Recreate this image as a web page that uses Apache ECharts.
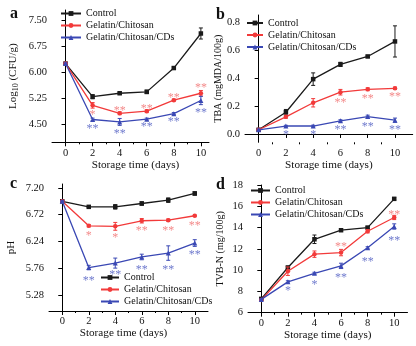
<!DOCTYPE html>
<html><head><meta charset="utf-8">
<script src="https://cdn.jsdelivr.net/npm/echarts@6/dist/echarts.min.js"></script>
<style>html,body{margin:0;padding:0;background:#fff}#c{width:416px;height:346px}</style>
</head><body><div id="c"></div>
<script>
// ---------- data ----------
const days = [0, 2, 4, 6, 8, 10];
const seriesNames = ['Control', 'Gelatin/Chitosan', 'Gelatin/Chitosan/CDs'];
const xTicks = [0, 2, 4, 6, 8, 10];
const xMinorTicks = [1, 3, 5, 7, 9];

// panel a: Log10 (CFU/g)
const aControl = [6.26, 5.30, 5.40, 5.44, 6.13, 7.13];
const aControlErr = [0.02, 0.06, 0.03, 0.05, 0.03, 0.16];
const aGC = [6.26, 5.05, 4.82, 4.88, 5.20, 5.40];
const aGCErr = [0.02, 0.08, 0.04, 0.04, 0.03, 0.08];
const aGCD = [6.26, 4.64, 4.57, 4.65, 4.81, 5.19];
const aGCDErr = [0.02, 0.04, 0.10, 0.03, 0.03, 0.12];
const aTicks = [4.50, 5.25, 6.00, 6.75, 7.50];
const aSigRed = [[2, 4.85, '*'], [4, 4.99, '**'], [6, 5.03, '**'], [8, 5.35, '**'], [10, 5.63, '**']];
const aSigBlue = [[2, 4.45, '**'], [4, 4.31, '**'], [6, 4.50, '**'], [8, 4.65, '**'], [10, 4.93, '**']];

// panel b: TBA (mgMDA/100g)
const bControl = [0.03, 0.156, 0.394, 0.50, 0.557, 0.665];
const bControlErr = [0.005, 0.02, 0.045, 0.015, 0.008, 0.112];
const bGC = [0.03, 0.123, 0.224, 0.30, 0.321, 0.328];
const bGCErr = [0.005, 0.01, 0.03, 0.02, 0.01, 0.008];
const bGCD = [0.03, 0.057, 0.057, 0.094, 0.125, 0.099];
const bGCDErr = [0.005, 0.005, 0.006, 0.008, 0.01, 0.015];
const bTicks = [0.0, 0.2, 0.4, 0.6, 0.8];
const bSigRed = [[6, 0.245, '**'], [8, 0.274, '**'], [10, 0.288, '**']];
const bSigBlue = [[2, 0.014, '*'], [4, 0.014, '*'], [6, 0.05, '**'], [8, 0.075, '**'], [10, 0.052, '**']];

// panel c: pH
const cControl = [6.96, 6.86, 6.86, 6.92, 6.98, 7.10];
const cControlErr = [0.01, 0.01, 0.04, 0.03, 0.04, 0.03];
const cGC = [6.96, 6.52, 6.51, 6.61, 6.62, 6.70];
const cGCErr = [0.01, 0.02, 0.07, 0.04, 0.02, 0.01];
const cGCD = [6.96, 5.77, 5.85, 5.96, 6.03, 6.21];
const cGCDErr = [0.01, 0.04, 0.09, 0.05, 0.13, 0.06];
const cTicks = [5.28, 5.76, 6.24, 6.72, 7.20];
const cSigRed = [[2, 6.40, '*'], [4, 6.36, '*'], [6, 6.48, '**'], [8, 6.49, '**'], [10, 6.58, '**']];
const cSigBlue = [[2, 5.59, '**'], [4, 5.69, '**'], [6, 5.79, '**'], [8, 5.79, '**'], [10, 6.06, '**']];

// panel d: TVB-N (mg/100g)
const dControl = [7.3, 10.25, 12.9, 13.75, 14.0, 16.7];
const dControlErr = [0.05, 0.1, 0.4, 0.1, 0.1, 0.1];
const dGC = [7.2, 9.9, 11.5, 11.65, 13.65, 14.95];
const dGCErr = [0.05, 0.4, 0.3, 0.3, 0.15, 0.2];
const dGCD = [7.25, 8.9, 9.7, 10.4, 12.1, 14.1];
const dGCDErr = [0.05, 0.1, 0.1, 0.25, 0.1, 0.25];
const dTicks = [6, 8, 10, 12, 14, 16, 18];
const dSigRed = [[6, 12.45, '**'], [10, 15.5, '**']];
const dSigBlue = [[2, 8.38, '*'], [4, 8.9, '*'], [6, 9.54, '**'], [8, 11.1, '**'], [10, 13.08, '**']];

// ---------- styling / layout ----------
const FONT = 'Liberation Serif';
const COLORS = ['#1a1a1a', '#f23a3a', '#3a48b4'];
const SIGCOLORS = ['#f06b6b', '#4a58c0'];
const SYMBOLS = ['rect', 'circle', 'triangle'];

const panels = [
  {letter: 'a', grid: {left: 52, top: 10, width: 157, height: 132.3}, xMax: 10.6, yMin: 3.98, yMax: 7.81,
   yTicks: aTicks, dec: 2, yName: '{t|Log}{s|10}{t| (CFU/g)}', yGap: 32, yNameSize: 11,
   data: [[aControl, aControlErr], [aGC, aGCErr], [aGCD, aGCDErr]], sig: [aSigRed, aSigBlue],
   legend: {left: 60, top: 8, w: 20}, letterPos: {left: 10, top: 6}, xNamePad: [0, 0, 0, 10]},
  {letter: 'b', grid: {left: 245, top: 15, width: 167.7, height: 127.3}, xMax: 11.3, yMin: -0.06, yMax: 0.855,
   yTicks: bTicks, dec: 1, yName: 'TBA (mgMDA/100g)', yGap: 20, yNameSize: 10,
   data: [[bControl, bControlErr], [bGC, bGCErr], [bGCD, bGCDErr]], sig: [bSigRed, bSigBlue],
   legend: {left: 246, top: 17.5, w: 16}, letterPos: {left: 216, top: 7}, xNamePad: [0, 0, 0, 0]},
  {letter: 'c', grid: {left: 49, top: 184, width: 159, height: 127}, xMax: 11, yMin: 4.99, yMax: 7.27,
   yTicks: cTicks, dec: 2, yName: 'pH', yGap: 32, yNameSize: 11,
   data: [[cControl, cControlErr], [cGC, cGCErr], [cGCD, cGCDErr]], sig: [cSigRed, cSigBlue],
   legend: {left: 100, top: 272, w: 18}, letterPos: {left: 10, top: 176}, xNamePad: [0, 10, 0, 0]},
  {letter: 'd', grid: {left: 248, top: 185, width: 159.5, height: 127.7}, xMax: 11, yMin: 6, yMax: 18,
   yTicks: dTicks, dec: 0, yName: 'TVB-N (mg/100g)', yGap: 23, yNameSize: 10,
   data: [[dControl, dControlErr], [dGC, dGCErr], [dGCD, dGCDErr]], sig: [dSigRed, dSigBlue],
   legend: {left: 250, top: 185, w: 19}, letterPos: {left: 216, top: 177}, xNamePad: [0, 0, 0, 0]}
];

const grids = [], xAxes = [], yAxes = [], series = [], legends = [], titles = [];
const axisLine = {show: true, lineStyle: {color: '#000', width: 1}};
const labelFont = {fontFamily: FONT, fontSize: 10.5, color: '#111'};

panels.forEach((p, i) => {
  grids.push(p.grid);
  // main x axis
  xAxes.push({
    type: 'value', gridIndex: i, min: -1, max: p.xMax, position: 'bottom',
    axisLine, splitLine: {show: false},
    axisTick: {show: true, inside: false, length: 4, customValues: xTicks, lineStyle: {color: '#000'}},
    axisLabel: Object.assign({customValues: xTicks, margin: 5}, labelFont),
    name: 'Storage time (days)', nameLocation: 'middle', nameGap: 15,
    nameTextStyle: {fontFamily: FONT, fontSize: 11.2, color: '#111', padding: p.xNamePad}
  });
  // minor tick axis
  xAxes.push({
    type: 'value', gridIndex: i, min: -1, max: p.xMax, position: 'bottom',
    axisLine: {show: false}, splitLine: {show: false},
    axisTick: {show: true, inside: false, length: 2, customValues: xMinorTicks, lineStyle: {color: '#000'}},
    axisLabel: {show: false}
  });
  yAxes.push({
    type: 'value', gridIndex: i, min: p.yMin, max: p.yMax,
    axisLine, splitLine: {show: false},
    axisTick: {show: true, inside: false, length: 4, customValues: p.yTicks, lineStyle: {color: '#000'}},
    axisLabel: Object.assign({customValues: p.yTicks, margin: 5,
      formatter: v => Number(v).toFixed(p.dec)}, labelFont),
    name: p.yName, nameLocation: 'middle', nameGap: p.yGap, nameRotate: 90,
    nameTextStyle: {fontFamily: FONT, fontSize: p.yNameSize, color: '#111',
      rich: {t: {fontFamily: FONT, fontSize: p.yNameSize, color: '#111'},
             s: {fontFamily: FONT, fontSize: 8, color: '#111', verticalAlign: 'bottom', padding: [6, 0, 0, 0]}}}
  });
  const xi = i * 2;
  p.data.forEach((d, k) => {
    series.push({
      type: 'line', name: seriesNames[k], xAxisIndex: xi, yAxisIndex: i,
      data: days.map((x, j) => [x, d[0][j]]),
      symbol: SYMBOLS[k], symbolSize: k === 2 ? 5 : 4.5, showAllSymbol: true,
      lineStyle: {color: COLORS[k], width: 1.3}, itemStyle: {color: COLORS[k]},
      emphasis: {disabled: true}, animation: false, z: 3 + k
    });
    series.push({
      type: 'custom', name: 'err' + i + k, xAxisIndex: xi, yAxisIndex: i,
      data: days.map((x, j) => [x, d[0][j], d[1][j]]),
      renderItem: (params, api) => {
        const x = api.value(0), y = api.value(1), e = api.value(2);
        const t = api.coord([x, y + e]), b = api.coord([x, y - e]);
        const st = {stroke: COLORS[k], lineWidth: 1};
        return {type: 'group', children: [
          {type: 'line', shape: {x1: t[0], y1: t[1], x2: b[0], y2: b[1]}, style: st},
          {type: 'line', shape: {x1: t[0] - 2, y1: t[1], x2: t[0] + 2, y2: t[1]}, style: st},
          {type: 'line', shape: {x1: b[0] - 2, y1: b[1], x2: b[0] + 2, y2: b[1]}, style: st}
        ]};
      },
      animation: false, silent: true, z: 3 + k
    });
  });
  p.sig.forEach((s, k) => {
    series.push({
      type: 'scatter', name: 'sig' + i + k, xAxisIndex: xi, yAxisIndex: i,
      data: s, symbolSize: 0, silent: true, animation: false,
      label: {show: true, position: 'inside', formatter: q => q.data[2], offset: [0, 3],
        fontFamily: FONT, fontSize: 12, color: SIGCOLORS[k]},
      emphasis: {disabled: true}, z: 6
    });
  });
  legends.push({
    data: seriesNames, orient: 'vertical', left: p.legend.left, top: p.legend.top,
    itemWidth: p.legend.w, itemHeight: 6, itemGap: 1, padding: 0, selectedMode: false,
    textStyle: {fontFamily: FONT, fontSize: 10, color: '#111', lineHeight: 11}
  });
  titles.push({text: p.letter, left: p.letterPos.left, top: p.letterPos.top, padding: 0,
    textStyle: {fontFamily: FONT, fontSize: 16, fontWeight: 'bold', color: '#111'}});
});

const chart = echarts.init(document.getElementById('c'), null, {renderer: 'canvas'});
chart.setOption({
  animation: false, backgroundColor: '#fff',
  title: titles, grid: grids, xAxis: xAxes, yAxis: yAxes, legend: legends, series
});
</script></body></html>
